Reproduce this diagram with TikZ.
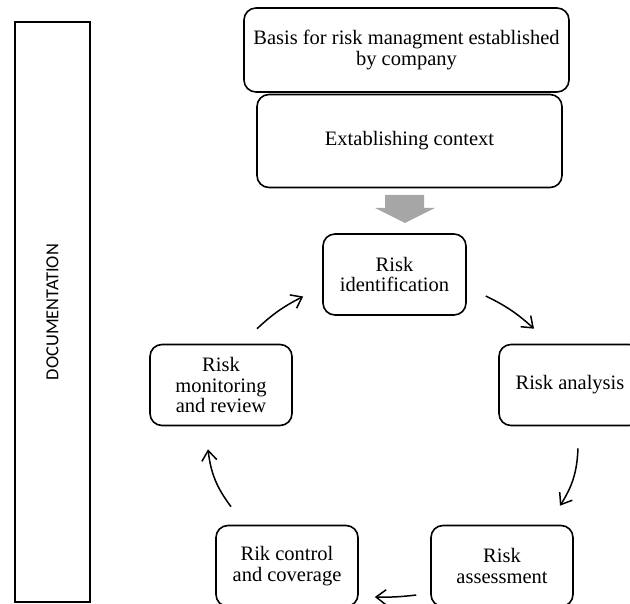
\documentclass[tikz,border=0pt]{standalone}
\usepackage{fontspec}
\setmainfont{Liberation Serif}
\newfontfamily\docfont{Carlito}
\usetikzlibrary{arrows.meta}

\begin{document}
\begin{tikzpicture}[x=1pt,y=-1pt,>={Straight Barb[length=10pt,width=15pt]},
  stepbox/.style={draw,line width=1.6pt,rounded corners=12pt,align=center,
    inner sep=0pt,minimum width=142pt,minimum height=81pt,
    font=\fontsize{20.5}{20.5}\selectfont},
  cyc/.style={->,line width=1.5pt}]
  \useasboundingbox (0,0) rectangle (630,604);

  % Documentation column
  \node[draw,line width=1.6pt,rotate=90,minimum width=580pt,minimum height=75pt,
    font=\docfont\fontsize{18.4}{20}\selectfont] (doc) at (52.5,312) {DOCUMENTATION};

  % Basis and context
  \node[stepbox,minimum width=325pt,minimum height=84pt] (basis) at (406.5,50)
    {Basis for risk managment established\\by company};
  \node[stepbox,minimum width=305pt,minimum height=93pt] (ctx) at (409.5,141)
    {Extablishing context};

  % Gray arrow into the cycle
  \fill[black!35] (385,195) -- (424,195) -- (424,208) -- (435,208) -- (405,223)
    -- (375,208) -- (385,208) -- cycle;

  % Cycle steps
  \node[stepbox,minimum width=143pt] (ident) at (394.5,274.5) {Risk\\identification};
  \node[stepbox] (ana) at (570,385) {Risk analysis};
  \node[stepbox] (ass) at (502,566) {Risk\\assessment};
  \node[stepbox] (ctl) at (287,566) {Rik control\\and coverage};
  \node[stepbox] (mon) at (221,385) {Risk\\monitoring\\and review};

  % Cycle arrows
  \draw[cyc] ([shift={(19,21.5)}]ident.east) to[bend left=8] ([shift={(-36,-15)}]ana.north);
  \draw[cyc] ([shift={(8,22)}]ana.south) to[bend left=15] ([shift={(58,-19)}]ass.north);
  \draw[cyc] ([shift={(-14,29)}]ass.west) to[bend left=4] ([shift={(16,31)}]ctl.east);
  \draw[cyc] ([shift={(-56,-18)}]ctl.north) to[bend left=15] ([shift={(-13,23)}]mon.south);
  \draw[cyc] ([shift={(36,-15)}]mon.north) to[bend left=8] ([shift={(-19,22)}]ident.west);

\end{tikzpicture}
\end{document}
